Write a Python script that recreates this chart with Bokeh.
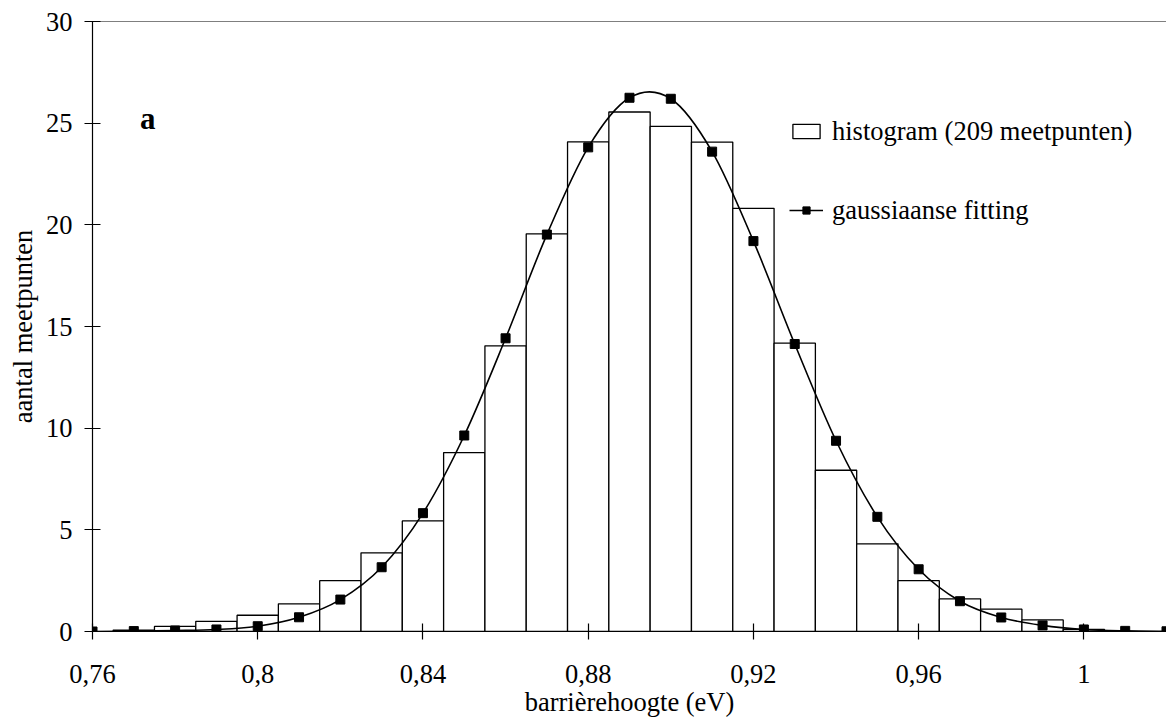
from bokeh.plotting import figure
from bokeh.models import (FixedTicker, Span, Label, Legend, LegendItem, Range1d)
from bokeh.embed import file_html
from bokeh.resources import INLINE

# ---- data ----
bin_centers = [0.77, 0.78, 0.79, 0.80, 0.81, 0.82, 0.83, 0.84, 0.85, 0.86, 0.87, 0.88,
               0.89, 0.90, 0.91, 0.92, 0.93, 0.94, 0.95, 0.96, 0.97, 0.98, 0.99, 1.00]
bin_counts = [0.07, 0.25, 0.50, 0.80, 1.36, 2.50, 3.87, 5.44, 8.80, 14.05, 19.56, 24.08,
              25.55, 24.84, 24.07, 20.81, 14.18, 7.93, 4.31, 2.50, 1.60, 1.10, 0.57, 0.10]

fit_x = [0.76, 0.77, 0.78, 0.79, 0.80, 0.81, 0.82, 0.83, 0.84, 0.85, 0.86, 0.87, 0.88, 0.89,
         0.90, 0.91, 0.92, 0.93, 0.94, 0.95, 0.96, 0.97, 0.98, 0.99, 1.00, 1.01, 1.02]
fit_y = [0.00, 0.02, 0.05, 0.10, 0.26, 0.70, 1.57, 3.16, 5.82, 9.64, 14.42, 19.52, 23.81, 26.25,
         26.20, 23.60, 19.20, 14.14, 9.38, 5.64, 3.06, 1.49, 0.69, 0.30, 0.10, 0.03, 0.01]

x_ticks = [0.76, 0.80, 0.84, 0.88, 0.92, 0.96, 1.00]
x_tick_labels = ["0,76", "0,8", "0,84", "0,88", "0,92", "0,96", "1"]
y_ticks = [0, 5, 10, 15, 20, 25, 30]

FONT = "Liberation Serif"
FS = "26.5px"

p = figure(width=1166, height=728, output_backend="svg", toolbar_location=None,
           x_range=Range1d(0.76, 1.02), y_range=Range1d(0, 30),
           min_border_left=92, min_border_right=0, min_border_top=21, min_border_bottom=97)
p.outline_line_color = None
p.grid.visible = False
p.background_fill_color = "white"
p.border_fill_color = "white"

# histogram bars
bars = p.vbar(x=bin_centers, top=bin_counts, bottom=0, width=0.01,
              fill_color="white", line_color="black", line_width=1.3)

# smooth (Excel-like) curve through the fit points: Catmull-Rom -> cubic Bezier control points
n = len(fit_x)
x0, y0, x1, y1, cx0, cy0, cx1, cy1 = [], [], [], [], [], [], [], []
for i in range(n - 1):
    pm = max(i - 1, 0)
    pp = min(i + 2, n - 1)
    x0.append(fit_x[i]); y0.append(fit_y[i])
    x1.append(fit_x[i + 1]); y1.append(fit_y[i + 1])
    cx0.append(fit_x[i] + (fit_x[i + 1] - fit_x[pm]) / 6)
    cy0.append(fit_y[i] + (fit_y[i + 1] - fit_y[pm]) / 6)
    cx1.append(fit_x[i + 1] - (fit_x[pp] - fit_x[i]) / 6)
    cy1.append(fit_y[i + 1] - (fit_y[pp] - fit_y[i]) / 6)
curve = p.bezier(x0=x0, y0=y0, x1=x1, y1=y1, cx0=cx0, cy0=cy0, cx1=cx1, cy1=cy1,
                 line_color="black", line_width=1.6)
pts = p.scatter(x=fit_x, y=fit_y, marker="square", size=9,
                fill_color="black", line_color="black")

# top frame line
p.add_layout(Span(location=30, dimension="width", line_color="black", line_width=1.2))

# axes
for ax in (p.xaxis[0], p.yaxis[0]):
    ax.axis_line_color = "black"
    ax.axis_line_width = 1.2
    ax.major_tick_line_color = "black"
    ax.major_tick_line_width = 1.2
    ax.major_tick_in = 8
    ax.major_tick_out = 8
    ax.minor_tick_line_color = None
    ax.major_label_text_font = FONT
    ax.major_label_text_font_size = FS
    ax.major_label_text_color = "black"
    ax.axis_label_text_font = FONT
    ax.axis_label_text_font_size = FS
    ax.axis_label_text_font_style = "normal"
    ax.axis_label_text_color = "black"

p.xaxis.ticker = FixedTicker(ticks=x_ticks)
p.xaxis.major_label_overrides = dict(zip(x_ticks, x_tick_labels))
p.xaxis.major_label_standoff = 25
p.xaxis.axis_label = "barrièrehoogte (eV)"
p.xaxis.axis_label_standoff = 1

p.yaxis.ticker = FixedTicker(ticks=y_ticks)
p.yaxis.major_label_standoff = 12
p.yaxis.axis_label = "aantal meetpunten"
p.yaxis.axis_label_standoff = 5

# panel letter
p.add_layout(Label(x=0.7715, y=25.25, text="a", text_font=FONT, text_font_size="31px",
                   text_font_style="bold", text_color="black", text_baseline="alphabetic"))

legend = Legend(items=[LegendItem(label="histogram (209 meetpunten)", renderers=[bars]),
                       LegendItem(label="gaussiaanse fitting", renderers=[curve, pts])],
                location=(697, 405), orientation="vertical",
                glyph_width=34, glyph_height=18, label_standoff=9,
                label_text_font=FONT, label_text_font_size=FS, label_text_color="black",
                label_height=32, spacing=47, padding=0, margin=0,
                border_line_color=None, background_fill_alpha=0)
p.add_layout(legend)

open("out.html", "w").write(file_html(p, INLINE))
